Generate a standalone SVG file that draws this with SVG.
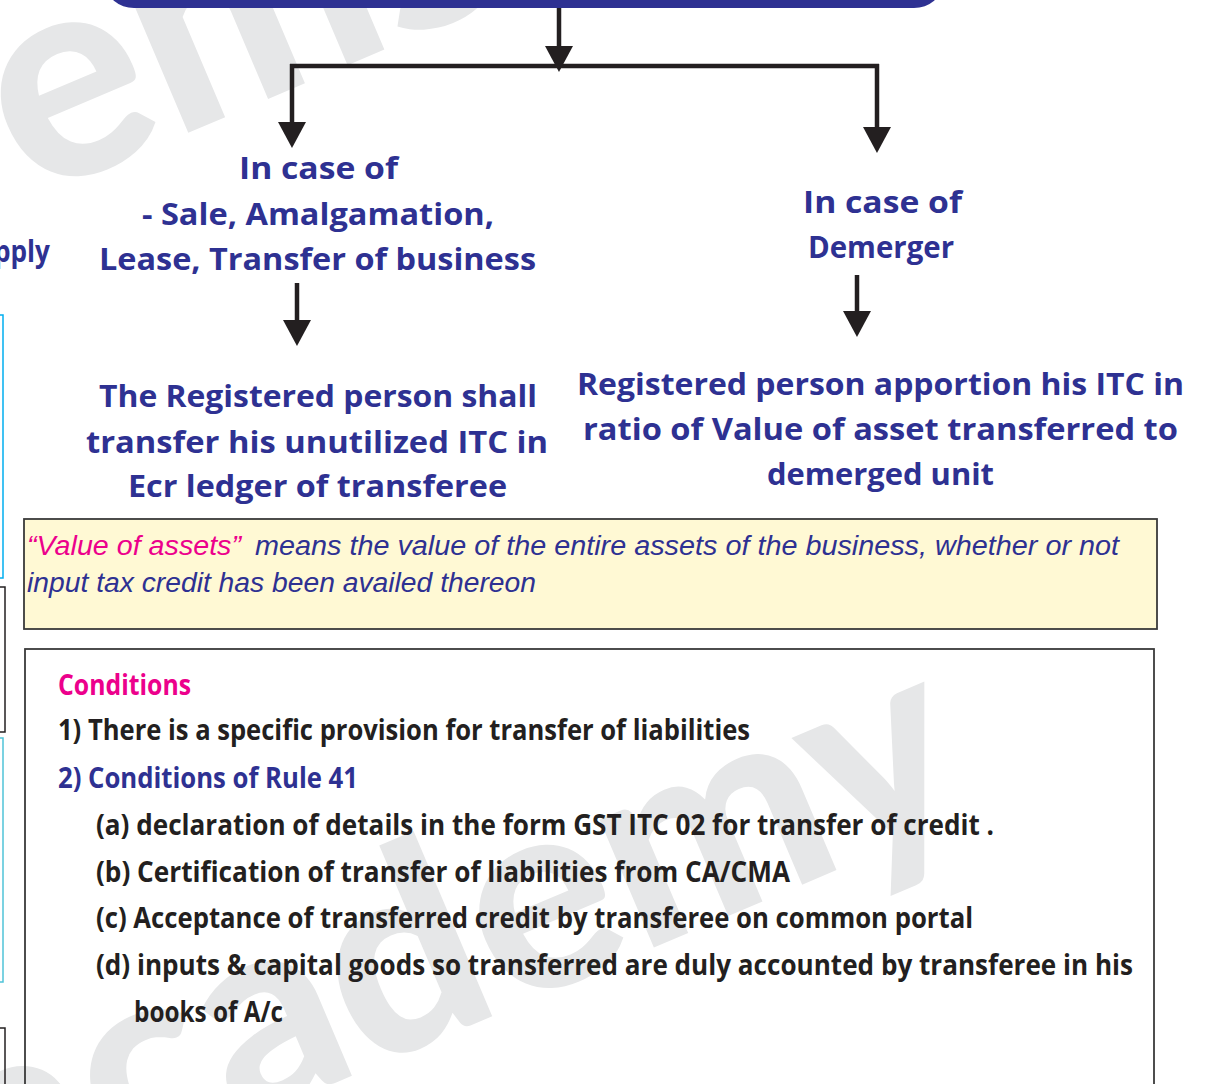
<svg xmlns="http://www.w3.org/2000/svg" width="1210" height="1084" viewBox="0 0 1210 1084">
<defs>
<style>
.wm{fill:#E6E7E8;font-family:Lato,"Open Sans",sans-serif;font-weight:900;}
.hd{font-family:"Open Sans","Noto Sans",sans-serif;font-weight:700;font-size:30px;fill:#2E3192;}
.yl{font-family:"Liberation Sans",Arial,sans-serif;font-style:italic;font-size:27px;fill:#2E3192;}
.cd{font-family:"Open Sans","Noto Sans",sans-serif;font-weight:700;font-size:28px;fill:#231F20;}
.pink{fill:#EC008C;}
.blue{fill:#2E3192;}
.conn{fill:none;stroke:#231F20;stroke-width:4.5;}
.edge{fill:none;stroke-width:1.5;}
</style>
<marker id="ah" markerUnits="userSpaceOnUse" markerWidth="26" markerHeight="28" viewBox="0 0 25 27" refX="1" refY="13.5" orient="auto">
<path d="M0,0 L25,13.5 L0,27 Z" fill="#231F20"/>
</marker>
</defs>
<rect x="0" y="0" width="1210" height="1084" fill="#FFFFFF"/>
<g id="watermark">
<text class="wm" font-size="290" transform="translate(30,200) rotate(-23)">ems</text>
<text class="wm" font-size="270" text-anchor="end" transform="translate(978,810) rotate(-23)">academy</text>
</g>
<g id="left-edge-boxes">
<rect class="edge" x="-20" y="315" width="23" height="263" stroke="#00AEEF"/>
<rect class="edge" x="-20" y="587" width="25" height="145" stroke="#231F20"/>
<rect class="edge" x="-20" y="738" width="23" height="244" stroke="#4FC3D8"/>
<rect class="edge" x="-20" y="1028" width="25" height="80" stroke="#231F20"/>
</g>
<g id="header">
<rect x="106" y="-40" width="836" height="48" rx="28" ry="28" fill="#2E3192"/>
</g>
<g id="connectors">
<path class="conn" d="M559,8 V47" marker-end="url(#ah)"/>
<path class="conn" d="M290,66 H879"/>
<path class="conn" d="M292,64 V123" marker-end="url(#ah)"/>
<path class="conn" d="M877,64 V128" marker-end="url(#ah)"/>
<path class="conn" d="M297,283 V321" marker-end="url(#ah)"/>
<path class="conn" d="M857,275 V312" marker-end="url(#ah)"/>
</g>
<g id="node-pply">
<text class="hd" x="-6" y="262" textLength="56" lengthAdjust="spacingAndGlyphs">pply</text>
</g>
<g id="node-sale">
<text class="hd" x="239" y="179" textLength="159" lengthAdjust="spacingAndGlyphs">In case of</text>
<text class="hd" x="142" y="225" textLength="352" lengthAdjust="spacingAndGlyphs">- Sale, Amalgamation,</text>
<text class="hd" x="99" y="270" textLength="437" lengthAdjust="spacingAndGlyphs">Lease, Transfer of business</text>
</g>
<g id="node-demerger">
<text class="hd" x="803" y="213" textLength="159" lengthAdjust="spacingAndGlyphs">In case of</text>
<text class="hd" x="808" y="258" textLength="146" lengthAdjust="spacingAndGlyphs">Demerger</text>
</g>
<g id="node-transfer-itc">
<text class="hd" x="99" y="407" textLength="438" lengthAdjust="spacingAndGlyphs">The Registered person shall</text>
<text class="hd" x="86" y="453" textLength="462" lengthAdjust="spacingAndGlyphs">transfer his unutilized ITC in</text>
<text class="hd" x="128" y="497" textLength="379" lengthAdjust="spacingAndGlyphs">Ecr ledger of transferee</text>
</g>
<g id="node-apportion">
<text class="hd" x="577" y="395" textLength="607" lengthAdjust="spacingAndGlyphs">Registered person apportion his ITC in</text>
<text class="hd" x="583" y="440" textLength="595" lengthAdjust="spacingAndGlyphs">ratio of Value of asset transferred to</text>
<text class="hd" x="767" y="485" textLength="227" lengthAdjust="spacingAndGlyphs">demerged unit</text>
</g>
<g id="node-value-of-assets">
<rect x="24" y="519" width="1133" height="110" fill="#FFF9D4" stroke="#3A3A3A" stroke-width="1.8"/>
<text class="yl pink" x="27" y="555" textLength="214" lengthAdjust="spacingAndGlyphs">“Value of assets”</text>
<text class="yl" x="255" y="555" textLength="864" lengthAdjust="spacingAndGlyphs">means the value of the entire assets of the business, whether or not</text>
<text class="yl" x="27" y="592" textLength="509" lengthAdjust="spacingAndGlyphs">input tax credit has been availed thereon</text>
</g>
<g id="node-conditions">
<rect x="25" y="649" width="1129" height="470" fill="none" stroke="#3A3A3A" stroke-width="1.8"/>
<text class="cd pink" x="58" y="695" textLength="133" lengthAdjust="spacingAndGlyphs">Conditions</text>
<text class="cd" x="58" y="740" textLength="692" lengthAdjust="spacingAndGlyphs">1) There is a specific provision for transfer of liabilities</text>
<text class="cd blue" x="58" y="788" textLength="300" lengthAdjust="spacingAndGlyphs">2) Conditions of Rule 41</text>
<text class="cd" x="96" y="835" textLength="898" lengthAdjust="spacingAndGlyphs">(a) declaration of details in the form GST ITC 02 for transfer of credit .</text>
<text class="cd" x="96" y="882" textLength="694" lengthAdjust="spacingAndGlyphs">(b) Certification of transfer of liabilities from CA/CMA</text>
<text class="cd" x="96" y="928" textLength="877" lengthAdjust="spacingAndGlyphs">(c) Acceptance of transferred credit by transferee on common portal</text>
<text class="cd" x="96" y="975" textLength="1037" lengthAdjust="spacingAndGlyphs">(d) inputs &amp; capital goods so transferred are duly accounted by transferee in his</text>
<text class="cd" x="134" y="1022" textLength="149" lengthAdjust="spacingAndGlyphs">books of A/c</text>
</g>
</svg>
